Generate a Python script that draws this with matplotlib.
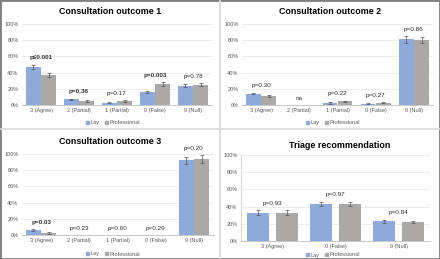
import matplotlib
matplotlib.use("Agg")
import matplotlib.pyplot as plt
from matplotlib.patches import Rectangle, Patch
from matplotlib.lines import Line2D
import numpy as np

plt.rcParams['font.family'] = ['Liberation Sans', 'DejaVu Sans']

cats5 = ["3 (Agree)", "2 (Partial)", "1 (Partial)", "0 (False)", "9 (Null)"]
cats3 = ["3 (Agree)", "0 (False)", "9 (Null)"]

titles = ["Consultation outcome 1", "Consultation outcome 2",
          "Consultation outcome 3", "Triage recommendation"]

lay1 = [47, 7, 3, 16, 24]
pro1 = [37, 5, 5, 26, 25]
lay1_err = [2.5, 1, 0.7, 1.5, 2]
pro1_err = [2.5, 1, 1, 2, 2]
p1 = ["p\u22640.001", "p=0.36", "p=0.17", "p=0.003", "p=0.78"]
b1 = [True, True, False, True, False]

lay2 = [14, 0, 2.5, 1.5, 81]
pro2 = [11, 0, 4.5, 3, 80]
lay2_err = [1, 0, 0.7, 0.5, 4]
pro2_err = [1, 0, 0.8, 0.7, 4]
p2 = ["p=0.30", "na", "p=0.22", "p=0.27", "p=0.86"]
b2 = [False, False, False, False, False]

lay3 = [6, 0, 0, 0, 92]
pro3 = [2.5, 0, 0, 0, 94]
lay3_err = [1, 0, 0, 0, 4.5]
pro3_err = [0.7, 0, 0, 0, 4.5]
p3 = ["p=0.03", "p=0.23", "p=0.60", "p=0.29", "p=0.20"]
b3 = [True, False, False, False, False]

lay4 = [33, 43, 23]
pro4 = [33, 43, 22]
lay4_err = [2.5, 2.5, 1.5]
pro4_err = [2.5, 2.5, 1.5]
p4 = ["p=0.93", "p=0.97", "p=0.84"]
b4 = [False, False, False]

BLUE = "#8EAADB"
GRAY = "#ABA9A7"
W, H = 440, 259

fig = plt.figure(figsize=(4.4, 2.59), dpi=100)
fig.patch.set_facecolor("white")

def fx(x): return x / W
def fy(y): return 1 - y / H

# border and separators
fig.add_artist(Rectangle((0, 0), 1, 1, transform=fig.transFigure, fill=False,
                         edgecolor="#7f7f7f", linewidth=2.0))
fig.add_artist(Line2D([fx(220), fx(220)], [0, 1], transform=fig.transFigure,
                      color="#d9d9d9", linewidth=1.2))
fig.add_artist(Line2D([0, 1], [fy(129), fy(129)], transform=fig.transFigure,
                      color="#d9d9d9", linewidth=1.2))

panels = [
    (cats5, lay1, pro1, lay1_err, pro1_err, p1, b1, (22, 212, 24, 105), 11, 123, 0.38, 0.2),
    (cats5, lay2, pro2, lay2_err, pro2_err, p2, b2, (242, 433, 24, 105), 11, 123, 0.38, 0.2),
    (cats5, lay3, pro3, lay3_err, pro3_err, p3, b3, (22, 213, 154, 235), 142, 254, 0.38, 0.2),
    (cats3, lay4, pro4, lay4_err, pro4_err, p4, b4, (241, 430, 155, 241), 145, 255, 0.35, 0.23),
]

for i, (cats, lay, pro, le, pe, pv, bold, box, ty, ly, bw, off) in enumerate(panels):
    x0, x1, y0, y1 = box
    ax = fig.add_axes([fx(x0), fy(y1), fx(x1 - x0), (y1 - y0) / H])
    x = np.arange(len(cats))
    lay_f = np.array(lay) / 100
    pro_f = np.array(pro) / 100
    ax.bar(x - off, lay_f, bw, color=BLUE, zorder=2)
    ax.bar(x + off, pro_f, bw, color=GRAY, zorder=2)
    for xs, vals, errs in ((x - off, lay_f, le), (x + off, pro_f, pe)):
        for xi, v, e in zip(xs, vals, errs):
            if v > 0:
                ax.errorbar(xi, v, yerr=e / 100, color="#555555", capsize=1.3,
                            elinewidth=0.5, capthick=0.5, zorder=3)
    for j, t in enumerate(pv):
        top = max(lay[j] + le[j], pro[j] + pe[j]) / 100
        ax.text(x[j], top + 0.055, t, ha="center", va="bottom", fontsize=4.6,
                fontweight="bold" if bold[j] else "normal", color="#333333")
    ax.set_ylim(0, 1)
    ax.set_xlim(-0.5, len(cats) - 0.5)
    ax.set_yticks(np.arange(0, 1.01, 0.2))
    ax.set_yticklabels([f"{int(round(v*100))}%" for v in np.arange(0, 1.01, 0.2)])
    ax.set_xticks(x)
    ax.set_xticklabels(cats)
    ax.tick_params(axis="both", labelsize=4, length=0, pad=2.5, colors="#595959")
    ax.grid(axis="y", color="#e6e6e6", linewidth=0.5, zorder=0)
    for s in ("top", "right"):
        ax.spines[s].set_visible(False)
    ax.spines["left"].set_visible(i == 3)
    ax.spines["left"].set_color("#d0d0d0")
    ax.spines["left"].set_linewidth(0.6)
    ax.spines["bottom"].set_color("#bfbfbf")
    ax.spines["bottom"].set_linewidth(0.6)
    tx = fx(340) if i == 3 else fx((0 if i % 2 == 0 else 220) + 110)
    fig.text(tx, fy(ty), titles[i], ha="center", va="center", fontsize=6.4,
             fontweight="bold", color="#000000")
    lx = (0 if i % 2 == 0 else 220) + 113
    handles = [Patch(color=BLUE, label="Lay"), Patch(color=GRAY, label="Professional")]
    fig.legend(handles=handles, loc="center", bbox_to_anchor=(fx(lx), fy(ly)),
               ncol=2, fontsize=4, frameon=False, handlelength=0.6, handleheight=0.6,
               handletextpad=0.3, columnspacing=1.0, labelcolor="#595959")

fig.savefig("out.png", dpi=100, facecolor="white")
